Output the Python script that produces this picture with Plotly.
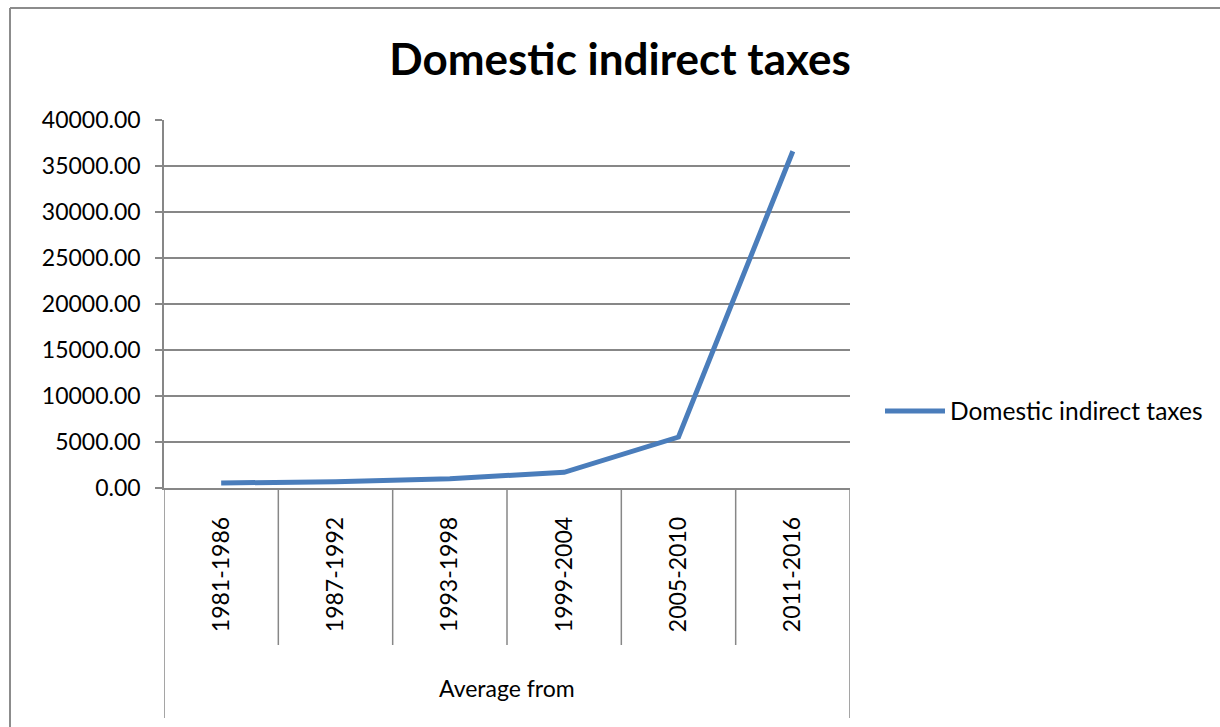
import plotly.graph_objects as go

# Averages of domestic indirect taxes over six-year periods
periods = ["1981-1986", "1987-1992", "1993-1998", "1999-2004", "2005-2010", "2011-2016"]
tax_values = [540, 690, 1010, 1700, 5540, 36600]
y_ticks = [0, 5000, 10000, 15000, 20000, 25000, 30000, 35000, 40000]

W, H = 1220, 727
L, R, T, B = 164, 850, 120, 488          # plot area in pixels
pw, ph = R - L, B - T

def px_x(px):
    return (px - L) / pw

def px_y(py):
    return (B - py) / ph

FONT = "Lato"
GRID = "#878787"
LINE = "#4a7dbb"

x_pos = list(range(len(periods)))

fig = go.Figure()
fig.add_trace(go.Scatter(
    x=x_pos, y=tax_values, mode="lines", name="Domestic indirect taxes",
    line=dict(color=LINE, width=5),
))

shapes = []
# category dividers below the axis
for i in range(1, len(periods)):
    shapes.append(dict(type="line", xref="x", yref="paper",
                       x0=i - 0.5, x1=i - 0.5, y0=0, y1=px_y(645),
                       line=dict(color=GRID, width=1.5)))
# outer edges of the category axis area
for xv in (-0.5, len(periods) - 0.5):
    shapes.append(dict(type="line", xref="x", yref="paper",
                       x0=xv, x1=xv, y0=0, y1=px_y(718),
                       line=dict(color=GRID, width=1.5)))
# chart border (left and top)
shapes.append(dict(type="line", xref="paper", yref="paper",
                   x0=px_x(10), x1=px_x(10), y0=px_y(8), y1=px_y(740),
                   line=dict(color="#8c8c8c", width=2)))
shapes.append(dict(type="line", xref="paper", yref="paper",
                   x0=px_x(10), x1=px_x(1240), y0=px_y(8), y1=px_y(8),
                   line=dict(color="#8c8c8c", width=2)))

fig.update_layout(
    width=W, height=H,
    margin=dict(l=L, r=W - R, t=T, b=H - B, autoexpand=False),
    paper_bgcolor="white", plot_bgcolor="white",
    font=dict(family=FONT, size=23, color="black"),
    title=dict(text="<b>Domestic indirect taxes</b>", x=620 / W, xanchor="center",
               y=1 - 60 / H, yanchor="middle", yref="container",
               font=dict(family=FONT, size=44, color="black")),
    showlegend=True,
    legend=dict(x=px_x(880), y=px_y(411), xanchor="left", yanchor="middle",
                font=dict(family=FONT, size=24.5, color="black"),
                itemwidth=60,
                bgcolor="rgba(0,0,0,0)", borderwidth=0),
    shapes=shapes,
    annotations=[dict(text="Average from", xref="paper", yref="paper",
                      x=0.5, y=px_y(688), xanchor="center", yanchor="middle",
                      showarrow=False, font=dict(family=FONT, size=23, color="black"))],
)

fig.update_xaxes(
    range=[-0.5, len(periods) - 0.5], tickvals=x_pos, ticktext=periods,
    tickangle=-90, ticks="", showgrid=False, zeroline=False,
    showline=True, linecolor=GRID, linewidth=1.5,
    ticklabelstandoff=18, fixedrange=True,
)
fig.update_yaxes(
    range=[0, 40000], tickvals=y_ticks, tickformat=".2f",
    showgrid=True, gridcolor=GRID, gridwidth=1.5, zeroline=False,
    showline=True, linecolor=GRID, linewidth=1.5,
    ticks="outside", ticklen=7, tickcolor=GRID, tickwidth=1.5,
    ticklabelstandoff=10, fixedrange=True,
)

fig.write_html("out.html")
